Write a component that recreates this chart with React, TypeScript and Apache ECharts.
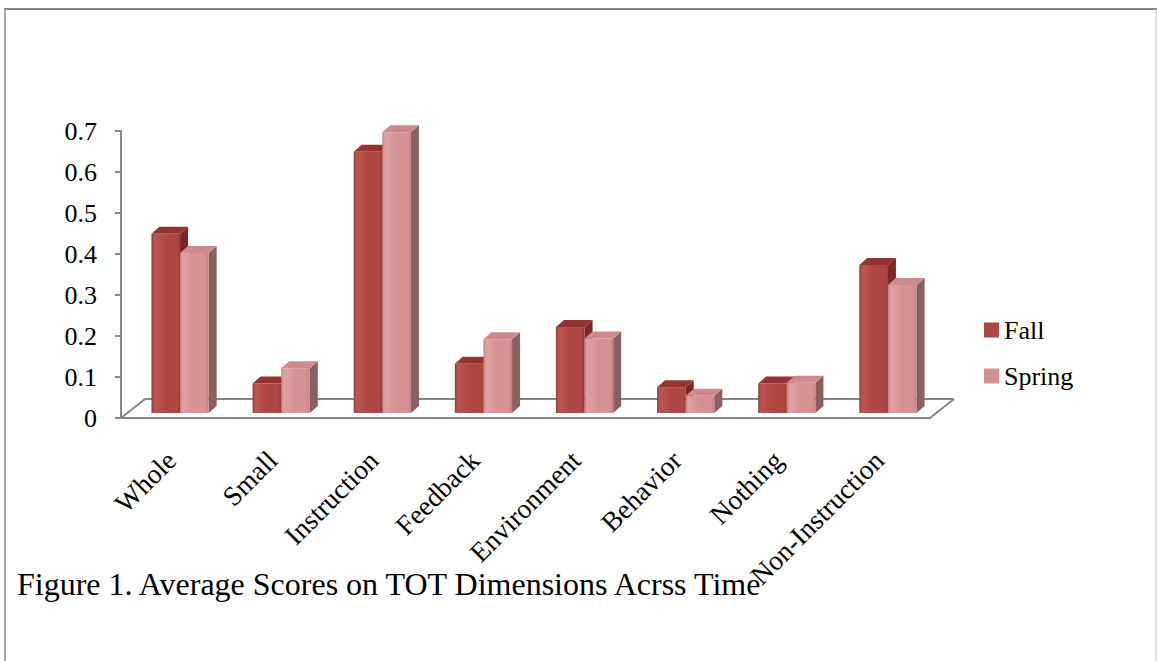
import React, { useEffect, useRef } from 'react';
import * as echarts from 'echarts';

// TOT dimension scores, Fall vs Spring
const categories = ['Whole', 'Small', 'Instruction', 'Feedback', 'Environment', 'Behavior', 'Nothing', 'Non-Instruction'];
const fallScores = [0.437, 0.072, 0.637, 0.12, 0.21, 0.063, 0.072, 0.361];
const springScores = [0.39, 0.109, 0.685, 0.18, 0.182, 0.042, 0.074, 0.312];
const seriesNames = ['Fall', 'Spring'];
const caption = 'Figure 1. Average Scores on TOT Dimensions Acrss Time';

const SERIF = '"Liberation Serif", "Times New Roman", serif';
const AXIS_GRAY = '#868686';

// pseudo-3D geometry (pixels)
const BAR_SHIFT_X = 8.5;
const BAR_SHIFT_Y = -5;
const DEPTH_X = 8;
const DEPTH_Y = -7;
const FLOOR_DX = 24;
const FLOOR_DY = -19;
const BAR_FRACTION = 0.283;

type Palette = { front: string; light: string; dark: string; top: string; side: string };

const fallPalette: Palette = { front: '#AD4743', light: '#BA5652', dark: '#983A36', top: '#933431', side: '#7A2825' };
const springPalette: Palette = { front: '#D49292', light: '#DDA2A2', dark: '#C28282', top: '#CC8A8A', side: '#8A5F5F' };

function barRenderer(side: 'left' | 'right', palette: Palette) {
  return (params: any, api: any) => {
    const cat = api.value(0);
    const v = api.value(1);
    const base = api.coord([cat, 0]);
    const top = api.coord([cat, v]);
    const band = api.size([1, 0])[0];
    const bw = band * BAR_FRACTION;
    const x0 = base[0] + BAR_SHIFT_X - (side === 'left' ? bw : 0);
    const yb = base[1] + BAR_SHIFT_Y;
    const yt = top[1] + BAR_SHIFT_Y;
    const frontFill = new echarts.graphic.LinearGradient(0, 0, 1, 0, [
      { offset: 0, color: palette.dark },
      { offset: 0.1, color: palette.light },
      { offset: 0.5, color: palette.front },
      { offset: 0.9, color: palette.front },
      { offset: 1, color: palette.dark },
    ]);
    return {
      type: 'group',
      children: [
        {
          type: 'polygon',
          shape: { points: [[x0 + bw, yt], [x0 + bw + DEPTH_X, yt + DEPTH_Y], [x0 + bw + DEPTH_X, yb + DEPTH_Y], [x0 + bw, yb]] },
          style: { fill: palette.side },
        },
        {
          type: 'polygon',
          shape: { points: [[x0, yt], [x0 + DEPTH_X, yt + DEPTH_Y], [x0 + bw + DEPTH_X, yt + DEPTH_Y], [x0 + bw, yt]] },
          style: { fill: palette.top },
        },
        {
          type: 'rect',
          shape: { x: x0, y: yt, width: bw, height: yb - yt },
          style: { fill: frontFill },
        },
      ],
    };
  };
}

function floorRenderer(params: any, api: any) {
  const band = api.size([1, 0])[0];
  const first = api.coord([0, 0]);
  const last = api.coord([categories.length - 1, 0]);
  const left = first[0] - band / 2;
  const right = last[0] + band / 2;
  const y = first[1];
  const lineStyle = { stroke: AXIS_GRAY, lineWidth: 2 };
  return {
    type: 'group',
    children: [
      { type: 'line', shape: { x1: left + FLOOR_DX, y1: y + FLOOR_DY, x2: right + FLOOR_DX, y2: y + FLOOR_DY }, style: lineStyle },
      { type: 'line', shape: { x1: left, y1: y, x2: left + FLOOR_DX, y2: y + FLOOR_DY }, style: lineStyle },
      { type: 'line', shape: { x1: right, y1: y, x2: right + FLOOR_DX, y2: y + FLOOR_DY }, style: lineStyle },
    ],
  };
}

export default function App() {
  const ref = useRef<HTMLDivElement>(null);

  useEffect(() => {
    if (!ref.current) return;
    const chart = echarts.init(ref.current, null, { renderer: 'svg' });
    chart.setOption({
      animation: false,
      backgroundColor: '#ffffff',
      title: {
        text: caption,
        left: 12,
        top: 563,
        textStyle: { fontFamily: SERIF, fontSize: 32, fontWeight: 'normal', color: '#000' },
      },
      legend: {
        data: seriesNames.map((name) => ({ name, icon: 'rect' })),
        orient: 'vertical',
        left: 984,
        top: 317,
        padding: 0,
        itemWidth: 15,
        itemHeight: 15,
        itemGap: 20,
        textStyle: { fontFamily: SERIF, fontSize: 26, color: '#000' },
      },
      grid: { left: 121, right: 227, top: 131, bottom: 243, containLabel: false },
      xAxis: {
        type: 'category',
        data: categories,
        axisLine: { lineStyle: { color: AXIS_GRAY, width: 2 } },
        axisTick: { length: 7, lineStyle: { color: AXIS_GRAY, width: 2 } },
        axisLabel: { interval: 0, rotate: 45, margin: 38, fontFamily: SERIF, fontSize: 27.5, color: '#000' },
        splitLine: { show: false },
      },
      yAxis: {
        type: 'value',
        min: 0,
        max: 0.7,
        interval: 0.1,
        axisLine: { show: true, lineStyle: { color: AXIS_GRAY, width: 2 } },
        axisTick: { show: true, length: 6, lineStyle: { color: AXIS_GRAY, width: 2 } },
        axisLabel: { margin: 24, fontFamily: SERIF, fontSize: 26, color: '#000' },
        splitLine: { show: false },
      },
      series: [
        {
          type: 'custom',
          name: 'Floor',
          renderItem: floorRenderer,
          data: [[0, 0]],
          silent: true,
          z: 1,
        },
        {
          type: 'custom',
          name: 'Fall',
          renderItem: barRenderer('left', fallPalette),
          itemStyle: { color: fallPalette.front },
          encode: { x: 0, y: 1 },
          data: categories.map((_, i) => [i, fallScores[i]]),
          z: 2,
        },
        {
          type: 'custom',
          name: 'Spring',
          renderItem: barRenderer('right', springPalette),
          itemStyle: { color: springPalette.front },
          encode: { x: 0, y: 1 },
          data: categories.map((_, i) => [i, springScores[i]]),
          z: 3,
        },
      ],
      graphic: [
        { type: 'line', shape: { x1: 4, y1: 9, x2: 1157, y2: 9 }, style: { stroke: '#878787', lineWidth: 2 } },
        { type: 'line', shape: { x1: 5, y1: 9, x2: 5, y2: 661 }, style: { stroke: '#A6A6A6', lineWidth: 2 } },
        { type: 'line', shape: { x1: 1156, y1: 9, x2: 1156, y2: 661 }, style: { stroke: '#C0C0C0', lineWidth: 1 } },
      ],
    });
    return () => chart.dispose();
  }, []);

  return (
    <div
      ref={ref}
      style={{ position: 'absolute', left: 0, top: 0, width: 1157, height: 661, background: '#fff' }}
    />
  );
}
